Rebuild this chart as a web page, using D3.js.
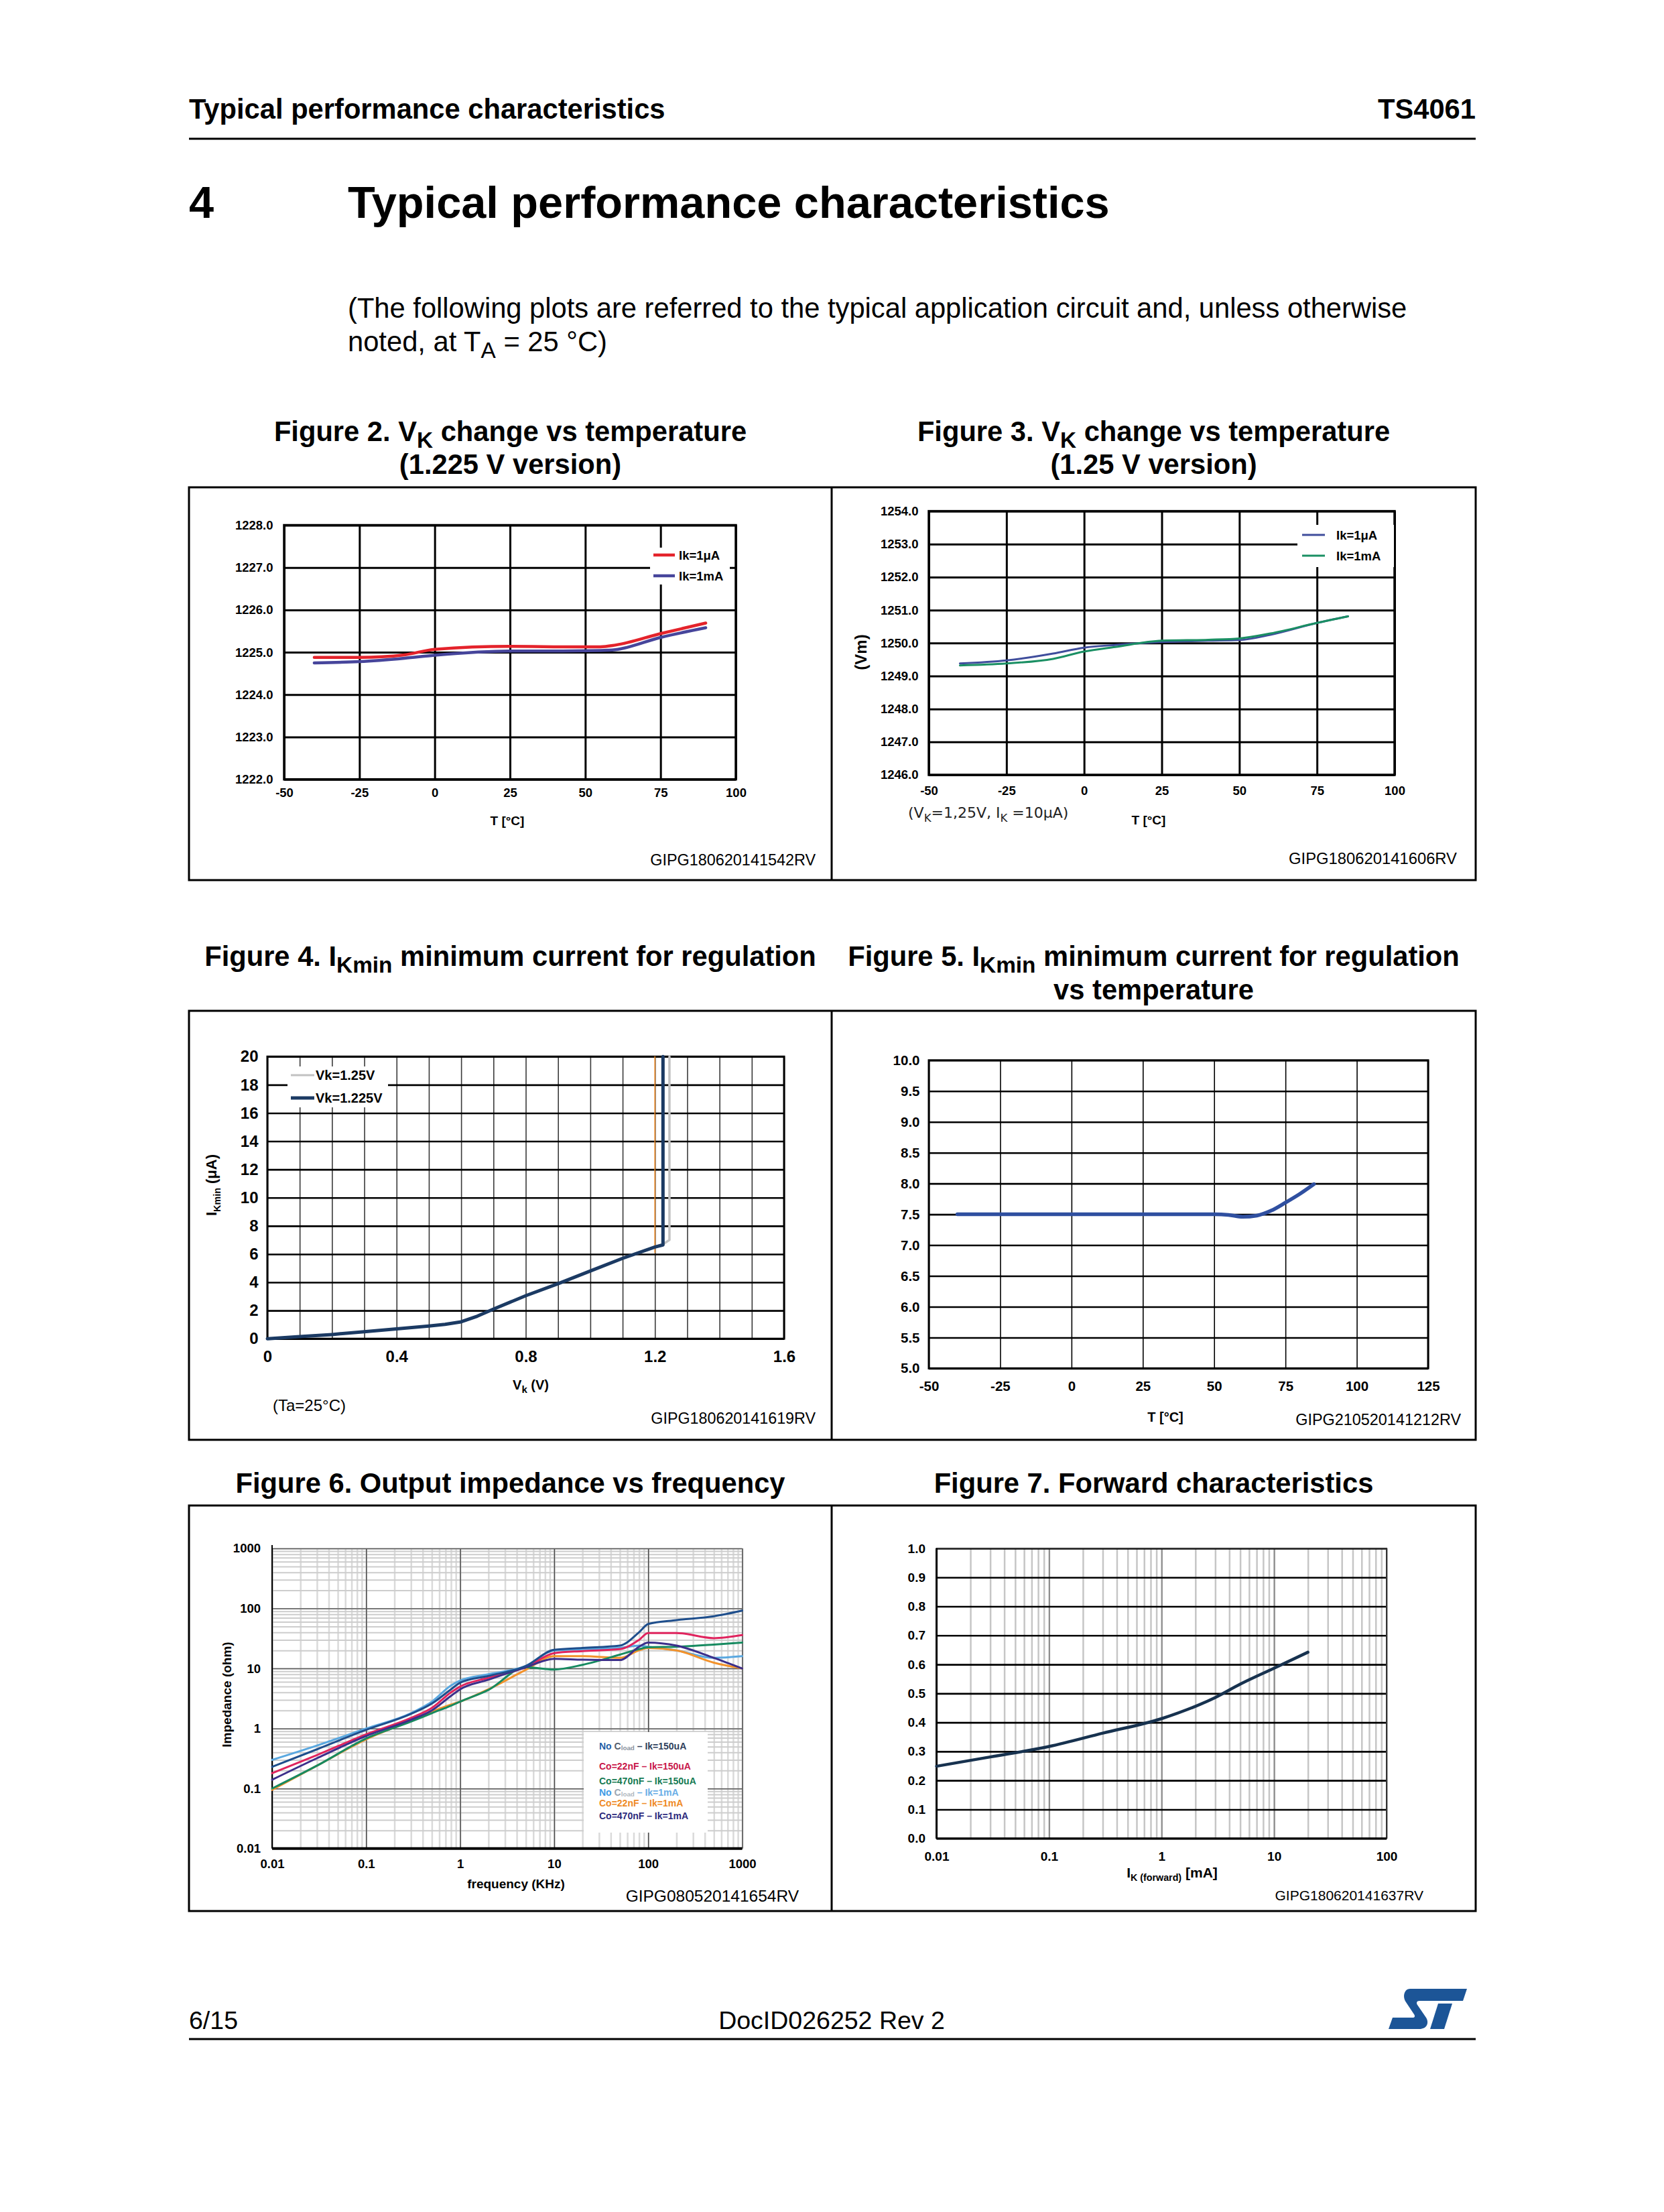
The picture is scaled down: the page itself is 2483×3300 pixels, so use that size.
<!DOCTYPE html>
<html>
<meta charset="utf-8">
<style>
  body { margin: 0; background: #fff; }
  svg { display: block; }
</style>
<body>
<script src="https://cdn.jsdelivr.net/npm/d3@7"></script>
<div id="page"></div>
<script>
// ---- data ----

// Figure 2 : VK vs temperature, 1.225 V version
var fig2Temp = [-40, -25, -10, 0, 25, 40, 55, 60, 75, 90];
var fig2Vk1uA = [1224.88, 1224.88, 1224.94, 1225.07, 1225.14, 1225.13, 1225.13, 1225.17, 1225.44, 1225.69];
var fig2Vk1mA = [1224.75, 1224.78, 1224.86, 1224.93, 1225.03, 1225.03, 1225.04, 1225.06, 1225.35, 1225.58];
var fig2TempTicks = [-50, -25, 0, 25, 50, 75, 100];
var fig2VkTicks = [1222, 1223, 1224, 1225, 1226, 1227, 1228];

// Figure 3 : VK vs temperature, 1.25 V version
var fig3Temp = [-40, -25, -10, 0, 10, 25, 40, 50, 60, 75, 85];
var fig3Vk1uA = [1249.38, 1249.47, 1249.68, 1249.86, 1249.94, 1250.03, 1250.07, 1250.09, 1250.25, 1250.61, 1250.81];
var fig3Vk1mA = [1249.32, 1249.38, 1249.52, 1249.74, 1249.88, 1250.07, 1250.1, 1250.14, 1250.29, 1250.61, 1250.81];
var fig3TempTicks = [-50, -25, 0, 25, 50, 75, 100];
var fig3VkTicks = [1246, 1247, 1248, 1249, 1250, 1251, 1252, 1253, 1254];

// Figure 4 : IKmin vs VK
var fig4Vk1225 = [0, 0.1, 0.2, 0.3, 0.4, 0.5, 0.55, 0.6, 0.65, 0.7, 0.8, 0.9, 1.0, 1.1, 1.2, 1.225, 1.225];
var fig4I1225 = [0, 0.15, 0.3, 0.5, 0.7, 0.9, 1.02, 1.2, 1.6, 2.1, 3.05, 3.9, 4.8, 5.7, 6.5, 6.65, 20];
var fig4Vk125 = [0, 0.1, 0.2, 0.3, 0.4, 0.5, 0.55, 0.6, 0.65, 0.7, 0.8, 0.9, 1.0, 1.1, 1.2, 1.225, 1.245, 1.245];
var fig4I125 = [0, 0.15, 0.3, 0.5, 0.7, 0.9, 1.02, 1.2, 1.6, 2.1, 3.05, 3.9, 4.8, 5.7, 6.5, 6.7, 7.0, 20];
var fig4Vk12 = [1.2, 1.2];
var fig4I12 = [6.1, 20];
var fig4VkTicks = [0, 0.4, 0.8, 1.2, 1.6];
var fig4ITicks = [0, 2, 4, 6, 8, 10, 12, 14, 16, 18, 20];

// Figure 5 : IKmin vs temperature
var fig5Temp = [-40, -25, 0, 25, 50, 55, 60, 65, 70, 75, 80, 85];
var fig5Ik = [7.5, 7.5, 7.5, 7.5, 7.5, 7.49, 7.46, 7.48, 7.56, 7.69, 7.83, 7.99];
var fig5TempTicks = [-50, -25, 0, 25, 50, 75, 100, 125];
var fig5IkTicks = [5, 5.5, 6, 6.5, 7, 7.5, 8, 8.5, 9, 9.5, 10];

// Figure 6 : output impedance vs frequency (kHz)
var fig6Freq = [0.01, 0.03, 0.1, 0.3, 0.5, 0.8, 1, 2, 5, 10, 20, 50, 80, 100, 200, 500, 1000];
var fig6NoC150 = [0.23, 0.45, 0.95, 1.75, 2.6, 4.5, 5.8, 7.5, 11, 20.5, 22, 24, 40, 55, 64, 74, 92];
var fig6C22n150 = [0.18, 0.36, 0.8, 1.5, 2.2, 4.0, 5.0, 7.0, 10.5, 18, 19.5, 21, 30, 39, 39, 32, 36];
var fig6C470n150 = [0.1, 0.24, 0.68, 1.3, 1.8, 2.4, 2.8, 4.4, 10.5, 9.6, 11.5, 17, 21, 22.5, 23, 25, 27];
var fig6NoC1m = [0.3, 0.52, 1.0, 1.8, 2.8, 5.2, 6.3, 8.0, 11, 20, 21, 22, 24, 23, 20, 15, 16];
var fig6C22n1m = [0.095, 0.24, 0.66, 1.35, 1.9, 2.5, 2.8, 4.5, 9.5, 16, 16, 15, 20, 22, 20, 12.5, 10];
var fig6C470n1m = [0.14, 0.32, 0.75, 1.4, 2.0, 3.5, 4.5, 6.5, 10.5, 14.5, 14, 13.8, 23, 27, 24, 15, 10];
var fig6FreqTicks = [0.01, 0.1, 1, 10, 100, 1000];
var fig6ZTicks = [0.01, 0.1, 1, 10, 100, 1000];

// Figure 7 : forward characteristics
var fig7If = [0.01, 0.03, 0.1, 0.3, 1, 3, 5, 10, 20];
var fig7Vf = [0.249, 0.281, 0.317, 0.363, 0.413, 0.486, 0.532, 0.587, 0.642];
var fig7IfTicks = [0.01, 0.1, 1, 10, 100];
var fig7VfTicks = [0, 0.1, 0.2, 0.3, 0.4, 0.5, 0.6, 0.7, 0.8, 0.9, 1.0];

// ---- page ----
var FONT = "'Liberation Sans', Arial, sans-serif";
var W = 2483, H = 3300;
var L = 282, R = 2202, MID = 1241;

var svg = d3.select("#page").append("svg").attr("width", W).attr("height", H);
svg.append("rect").attr("width", W).attr("height", H).attr("fill", "#fff");

// text with optional subscript parts
function label(parent, x, y, parts, o) {
    o = o || {};
    var t = parent.append("text").attr("x", x).attr("y", y)
        .attr("font-family", o.family || FONT)
        .attr("font-size", o.size)
        .attr("font-weight", o.bold ? "bold" : "normal")
        .attr("text-anchor", o.anchor || "start")
        .attr("fill", o.color || "#000");
    if (o.rotate) t.attr("transform", "rotate(-90," + x + "," + y + ")");
    if (typeof parts === "string") parts = [parts];
    var shifted = 0;
    parts.forEach(function(p) {
        var s = typeof p === "string" ? {t: p} : p;
        var ts = t.append("tspan").text(s.t);
        var want = s.sub ? o.size * (s.shift || 0.25) : 0;
        if (want !== shifted) { ts.attr("dy", want - shifted); shifted = want; }
        if (s.sub) ts.attr("font-size", o.size * (s.scale || 0.75));
        if (s.color) ts.attr("fill", s.color);
    });
    return t;
}

function hline(x1, x2, y, w, c) {
    svg.append("line").attr("x1", x1).attr("x2", x2).attr("y1", y).attr("y2", y)
        .attr("stroke", c || "#000").attr("stroke-width", w);
}

// plot frame with grid lines and tick labels drawn by d3 axes
function panel(p) {
    var x = (p.xLog ? d3.scaleLog() : d3.scaleLinear()).domain(p.xDomain).range([p.left, p.right]);
    var y = (p.yLog ? d3.scaleLog() : d3.scaleLinear()).domain(p.yDomain).range([p.bottom, p.top]);
    var g = svg.append("g");
    var h = p.bottom - p.top, w = p.right - p.left;

    p.grids.forEach(function(gr) {
        var ax = gr.axis === "x"
            ? d3.axisBottom(x).tickValues(gr.values).tickSize(-h).tickFormat("")
            : d3.axisLeft(y).tickValues(gr.values).tickSize(-w).tickFormat("");
        var gg = g.append("g")
            .attr("transform", gr.axis === "x" ? "translate(0," + p.bottom + ")" : "translate(" + p.left + ",0)")
            .call(ax);
        gg.select(".domain").remove();
        gg.selectAll("line").attr("stroke", gr.color).attr("stroke-width", gr.width);
    });

    var xl = g.append("g").attr("transform", "translate(0," + p.bottom + ")")
        .call(d3.axisBottom(x).tickValues(p.xTicks).tickFormat(p.xFmt).tickSize(0).tickPadding(p.xPad));
    var yl = g.append("g").attr("transform", "translate(" + p.left + ",0)")
        .call(d3.axisLeft(y).tickValues(p.yTicks).tickFormat(p.yFmt).tickSize(0).tickPadding(p.yPad));
    [xl, yl].forEach(function(a) {
        a.select(".domain").remove();
        a.selectAll("text").attr("font-family", FONT).attr("font-size", p.fs)
            .attr("font-weight", "bold").attr("fill", "#000");
    });

    if (p.border) {
        g.append("rect").attr("x", p.left).attr("y", p.top).attr("width", w).attr("height", h)
            .attr("fill", "none").attr("stroke", "#000").attr("stroke-width", p.border);
    }
    return {x: x, y: y, g: g};
}

function drawLine(pl, xs, ys, color, width, curve) {
    pl.g.append("path")
        .datum(d3.zip(xs, ys))
        .attr("fill", "none")
        .attr("stroke", color)
        .attr("stroke-width", width)
        .attr("stroke-linejoin", "round")
        .attr("stroke-linecap", "round")
        .attr("d", d3.line()
            .x(function(d) { return pl.x(d[0]); })
            .y(function(d) { return pl.y(d[1]); })
            .curve(curve || d3.curveLinear));
}

function legendBox(pl, x, y, w, h) {
    pl.g.append("rect").attr("x", x).attr("y", y).attr("width", w).attr("height", h).attr("fill", "#fff");
}

function legendItem(pl, x1, x2, y, color, width, text, tx, size) {
    pl.g.append("line").attr("x1", x1).attr("x2", x2).attr("y1", y).attr("y2", y)
        .attr("stroke", color).attr("stroke-width", width);
    label(pl.g, tx, y, text, {size: size, bold: true}).attr("dominant-baseline", "central");
}

var str = function(d) { return String(d); };
var f1 = d3.format(".1f");

// ---- header ----
label(svg, L, 177, "Typical performance characteristics", {size: 41.7, bold: true});
label(svg, R, 177, "TS4061", {size: 41.7, bold: true, anchor: "end"});
hline(L, R, 207, 3);

label(svg, L, 325, "4", {size: 66.7, bold: true});
label(svg, 519, 325, "Typical performance characteristics", {size: 66.7, bold: true});

label(svg, 519, 474, "(The following plots are referred to the typical application circuit and, unless otherwise", {size: 41.7});
label(svg, 519, 524, ["noted, at T", {t: "A", sub: true, scale: 0.8}, " = 25 \u00b0C)"], {size: 41.7});

// ---- figure captions ----
var cL = (L + MID) / 2, cR = (MID + R) / 2;
label(svg, cL, 658, ["Figure 2. V", {t: "K", sub: true, scale: 0.8}, " change vs temperature"], {size: 41.7, bold: true, anchor: "middle"});
label(svg, cL, 707, "(1.225 V version)", {size: 41.7, bold: true, anchor: "middle"});
label(svg, cR, 658, ["Figure 3. V", {t: "K", sub: true, scale: 0.8}, " change vs temperature"], {size: 41.7, bold: true, anchor: "middle"});
label(svg, cR, 707, "(1.25 V version)", {size: 41.7, bold: true, anchor: "middle"});

label(svg, cL, 1441, ["Figure 4. I", {t: "Kmin", sub: true, scale: 0.8}, " minimum current for regulation"], {size: 41.7, bold: true, anchor: "middle"});
label(svg, cR, 1441, ["Figure 5. I", {t: "Kmin", sub: true, scale: 0.8}, " minimum current for regulation"], {size: 41.7, bold: true, anchor: "middle"});
label(svg, cR, 1491, "vs temperature", {size: 41.7, bold: true, anchor: "middle"});

label(svg, cL, 2227, "Figure 6. Output impedance vs frequency", {size: 41.7, bold: true, anchor: "middle"});
label(svg, cR, 2227, "Figure 7. Forward characteristics", {size: 41.7, bold: true, anchor: "middle"});

// ---- figure frames ----
[[727, 1313], [1508, 2148], [2246, 2851]].forEach(function(r) {
    svg.append("rect").attr("x", L).attr("y", r[0]).attr("width", R - L).attr("height", r[1] - r[0])
        .attr("fill", "none").attr("stroke", "#000").attr("stroke-width", 3);
    svg.append("line").attr("x1", MID).attr("x2", MID).attr("y1", r[0]).attr("y2", r[1])
        .attr("stroke", "#000").attr("stroke-width", 3);
});

// ---- Figure 2 ----
var p2 = panel({
    left: 424, right: 1098, top: 783.5, bottom: 1162.7,
    xDomain: [-50, 100], yDomain: [1222, 1228],
    grids: [{axis: "x", values: fig2TempTicks, color: "#000", width: 3},
            {axis: "y", values: fig2VkTicks, color: "#000", width: 3}],
    xTicks: fig2TempTicks, yTicks: fig2VkTicks, xFmt: str, yFmt: f1,
    fs: 18.5, xPad: 13, yPad: 16.5, border: 3.5
});
drawLine(p2, fig2Temp, fig2Vk1mA, "#46459b", 4.5, d3.curveMonotoneX);
drawLine(p2, fig2Temp, fig2Vk1uA, "#e4232b", 4.5, d3.curveMonotoneX);
legendBox(p2, 970, 817, 119, 55);
legendItem(p2, 975, 1007, 828, "#e4232b", 4.5, "Ik=1\u03bcA", 1013, 18.5);
legendItem(p2, 975, 1007, 859, "#46459b", 4.5, "Ik=1mA", 1013, 18.5);
label(svg, 757, 1231, "T [\u00b0C]", {size: 19, bold: true, anchor: "middle"});
label(svg, 1217, 1291, "GIPG180620141542RV", {size: 23.4, anchor: "end"});

// ---- Figure 3 ----
var p3 = panel({
    left: 1386, right: 2081, top: 762.6, bottom: 1156,
    xDomain: [-50, 100], yDomain: [1246, 1254],
    grids: [{axis: "x", values: fig3TempTicks, color: "#000", width: 3},
            {axis: "y", values: fig3VkTicks, color: "#000", width: 3}],
    xTicks: fig3TempTicks, yTicks: fig3VkTicks, xFmt: str, yFmt: f1,
    fs: 18.5, xPad: 17, yPad: 15.5, border: 3.5
});
drawLine(p3, fig3Temp, fig3Vk1uA, "#3f4d9c", 3, d3.curveMonotoneX);
drawLine(p3, fig3Temp, fig3Vk1mA, "#1a8f63", 3, d3.curveMonotoneX);
legendBox(p3, 1936, 783, 144, 63);
legendItem(p3, 1943, 1977, 798, "#3f4d9c", 3, "Ik=1\u03bcA", 1994, 18.5);
legendItem(p3, 1943, 1977, 829, "#1a8f63", 3, "Ik=1mA", 1994, 18.5);
label(svg, 1293, 973, "(Vm)", {size: 24, bold: true, anchor: "middle", rotate: true});
label(svg, 1355, 1220, ["(V", {t: "K", sub: true}, "=1,25V, I", {t: "K", sub: true}, " =10\u03bcA)"], {size: 22, family: "'DejaVu Sans', sans-serif", color: "#222"});
label(svg, 1714, 1230, "T [\u00b0C]", {size: 19, bold: true, anchor: "middle"});
label(svg, 2174, 1289, "GIPG180620141606RV", {size: 23.8, anchor: "end"});

// ---- Figure 4 ----
var x4 = d3.scaleLinear().domain([0, 1.6]);
var p4 = panel({
    left: 399, right: 1170, top: 1576.3, bottom: 1997.2,
    xDomain: [0, 1.6], yDomain: [0, 20],
    grids: [{axis: "x", values: x4.ticks(16), color: "#3a3a3a", width: 1.6},
            {axis: "y", values: fig4ITicks, color: "#000", width: 2.6}],
    xTicks: fig4VkTicks, yTicks: fig4ITicks, xFmt: str, yFmt: str,
    fs: 24, xPad: 18, yPad: 13.5, border: 3
});
legendBox(p4, 429, 1591, 150, 61);
drawLine(p4, fig4Vk12, fig4I12, "#e8841f", 1.6);
drawLine(p4, fig4Vk125, fig4I125, "#c2c2c2", 3.5);
drawLine(p4, fig4Vk1225, fig4I1225, "#1b3a63", 5);
legendItem(p4, 434, 469, 1604, "#c2c2c2", 3, "Vk=1.25V", 471, 20);
legendItem(p4, 434, 469, 1638, "#1b3a63", 5, "Vk=1.225V", 471, 20);
label(svg, 792, 2073, ["V", {t: "k", sub: true}, " (V)"], {size: 20, bold: true, anchor: "middle"});
label(svg, 323, 1768, ["I", {t: "Kmin", sub: true, scale: 0.65}, " (\u03bcA)"], {size: 22, bold: true, anchor: "middle", rotate: true});
label(svg, 407, 2105, "(Ta=25\u00b0C)", {size: 24});
label(svg, 1217, 2124, "GIPG180620141619RV", {size: 23.3, anchor: "end"});

// ---- Figure 5 ----
var p5 = panel({
    left: 1386, right: 2131, top: 1581.8, bottom: 2041.4,
    xDomain: [-50, 125], yDomain: [5, 10],
    grids: [{axis: "x", values: fig5TempTicks, color: "#000", width: 1.6},
            {axis: "y", values: fig5IkTicks, color: "#000", width: 2.6}],
    xTicks: fig5TempTicks, yTicks: fig5IkTicks, xFmt: str, yFmt: f1,
    fs: 20.5, xPad: 19, yPad: 13.5, border: 3
});
drawLine(p5, fig5Temp, fig5Ik, "#2f4fa0", 5.5, d3.curveMonotoneX);
label(svg, 1739, 2121, "T [\u00b0C]", {size: 20, bold: true, anchor: "middle"});
label(svg, 2180, 2126, "GIPG210520141212RV", {size: 23.4, anchor: "end"});

// ---- Figure 6 ----
var x6 = d3.scaleLog().domain([0.01, 1000]);
var y6 = d3.scaleLog().domain([0.01, 1000]);
var p6 = panel({
    left: 406, right: 1107.5, top: 2310, bottom: 2757.8,
    xLog: true, yLog: true,
    xDomain: [0.01, 1000], yDomain: [0.01, 1000],
    grids: [{axis: "x", values: x6.ticks(), color: "#dadada", width: 2.5},
            {axis: "y", values: y6.ticks(), color: "#cdcdcd", width: 2},
            {axis: "x", values: fig6FreqTicks, color: "#4a4a4a", width: 1.5},
            {axis: "y", values: fig6ZTicks, color: "#5a5a5a", width: 1.5}],
    xTicks: fig6FreqTicks, yTicks: fig6ZTicks, xFmt: str, yFmt: str,
    fs: 18.5, xPad: 16.5, yPad: 17, border: 0
});
p6.g.append("line").attr("x1", 406).attr("x2", 406).attr("y1", 2305).attr("y2", 2757.8)
    .attr("stroke", "#000").attr("stroke-width", 2);
p6.g.append("line").attr("x1", 406).attr("x2", 1107.5).attr("y1", 2757.8).attr("y2", 2757.8)
    .attr("stroke", "#000").attr("stroke-width", 4);

var fig6Series = [
    {ys: fig6NoC1m, color: "#5aa8e0"},
    {ys: fig6C22n1m, color: "#f3922b"},
    {ys: fig6C470n150, color: "#178a60"},
    {ys: fig6C22n150, color: "#e0245e"},
    {ys: fig6C470n1m, color: "#3c2f8a"},
    {ys: fig6NoC150, color: "#1e4e8c"}
];
fig6Series.forEach(function(s) {
    drawLine(p6, fig6Freq, s.ys, s.color, 3, d3.curveMonotoneX);
});

legendBox(p6, 871, 2584, 185, 150);
var lg6 = {size: 14, bold: true};
label(p6.g, 894, 2609.5, [{t: "No ", color: "#1f5fa8"}, {t: "C", color: "#55606e"}, {t: "load", sub: true, shift: 0.1, scale: 0.7, color: "#8a93a0"}, {t: " \u2013 Ik=150uA", color: "#2f3f5c"}], lg6);
label(p6.g, 894, 2640.3, "Co=22nF \u2013 Ik=150uA", {size: 14, bold: true, color: "#c8184a"});
label(p6.g, 894, 2661.7, "Co=470nF \u2013 Ik=150uA", {size: 14, bold: true, color: "#157a52"});
label(p6.g, 894, 2678.7, [{t: "No ", color: "#3d9be6"}, {t: "C", color: "#9aa6b2"}, {t: "load", sub: true, shift: 0.1, scale: 0.7, color: "#b0b8c0"}, {t: " \u2013 Ik=1mA", color: "#6aaee6"}], lg6);
label(p6.g, 894, 2694.5, "Co=22nF \u2013 Ik=1mA", {size: 14, bold: true, color: "#ef8a26"});
label(p6.g, 894, 2713.5, "Co=470nF \u2013 Ik=1mA", {size: 14, bold: true, color: "#2c2a7c"});

label(svg, 770, 2817, "frequency (KHz)", {size: 19, bold: true, anchor: "middle"});
label(svg, 345, 2528, "Impedance  (ohm)", {size: 19, bold: true, anchor: "middle", rotate: true});
label(svg, 1192, 2837, "GIPG080520141654RV", {size: 24.5, anchor: "end"});

// ---- Figure 7 ----
var x7 = d3.scaleLog().domain([0.01, 100]);
var p7 = panel({
    left: 1397.5, right: 2069, top: 2310, bottom: 2742.7,
    xLog: true, xDomain: [0.01, 100], yDomain: [0, 1],
    grids: [{axis: "x", values: x7.ticks(), color: "#c6c6c6", width: 2.5},
            {axis: "x", values: fig7IfTicks, color: "#8c8c8c", width: 2},
            {axis: "y", values: fig7VfTicks, color: "#000", width: 2.6}],
    xTicks: fig7IfTicks, yTicks: fig7VfTicks, xFmt: str, yFmt: f1,
    fs: 19, xPad: 19.5, yPad: 16.5, border: 0
});
p7.g.append("rect").attr("x", 1397.5).attr("y", 2310).attr("width", 2069 - 1397.5).attr("height", 2742.7 - 2310)
    .attr("fill", "none").attr("stroke", "#333").attr("stroke-width", 2);
p7.g.append("line").attr("x1", 1397.5).attr("x2", 1397.5).attr("y1", 2310).attr("y2", 2742.7)
    .attr("stroke", "#000").attr("stroke-width", 3);
p7.g.append("line").attr("x1", 1397.5).attr("x2", 2069).attr("y1", 2742.7).attr("y2", 2742.7)
    .attr("stroke", "#000").attr("stroke-width", 3);
drawLine(p7, fig7If, fig7Vf, "#17324f", 4.5, d3.curveMonotoneX);
label(svg, 1749, 2801, ["I", {t: "K (forward)", sub: true, scale: 0.68}, " [mA]"], {size: 21, bold: true, anchor: "middle"});
label(svg, 2124, 2835, "GIPG180620141637RV", {size: 21, anchor: "end"});

// ---- footer ----
label(svg, L, 3027, "6/15", {size: 37.5});
label(svg, MID, 3027, "DocID026252 Rev 2", {size: 37.5, anchor: "middle"});
hline(L, R, 3042, 3);

// ST logo
var logo = svg.append("g").attr("transform", "translate(2072,2963)").attr("fill", "#1c5597");
logo.append("path").attr("d",
    "M32,4 L117,4 L111,22 L46,22 C42,22 41,25 43,28 L56,47 C61,55 57,64 46,64 L0,64 L6,47 L36,47 " +
    "C39,47 40,45 38,42 L26,24 C20,15 24,4 32,4 Z");
logo.append("path").attr("d", "M74,26 L95,26 L83,64 L62,64 Z");
</script>
</body>
</html>
